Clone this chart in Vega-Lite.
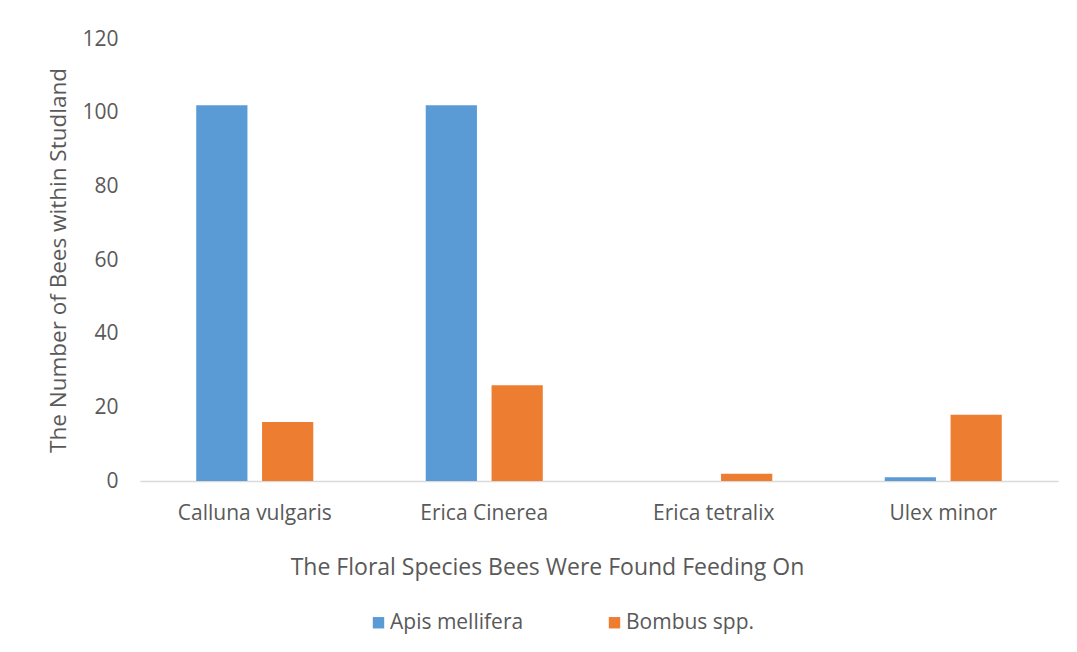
{
  "$schema": "https://vega.github.io/schema/vega-lite/v6.json",
  "autosize": {"type": "none"},
  "width": 918,
  "height": 442,
  "padding": {"left": 140, "top": 39, "right": 19, "bottom": 171},
  "background": "white",
  "data": {
    "values": [
      {"species": "Calluna vulgaris", "bee": "Apis mellifera", "count": 102},
      {"species": "Calluna vulgaris", "bee": "Bombus spp.", "count": 16},
      {"species": "Erica Cinerea", "bee": "Apis mellifera", "count": 102},
      {"species": "Erica Cinerea", "bee": "Bombus spp.", "count": 26},
      {"species": "Erica tetralix", "bee": "Apis mellifera", "count": 0},
      {"species": "Erica tetralix", "bee": "Bombus spp.", "count": 2},
      {"species": "Ulex minor", "bee": "Apis mellifera", "count": 1},
      {"species": "Ulex minor", "bee": "Bombus spp.", "count": 18}
    ]
  },
  "mark": {"type": "bar"},
  "encoding": {
    "x": {
      "field": "species",
      "type": "nominal",
      "sort": null,
      "scale": {"paddingInner": 0.49, "paddingOuter": 0.245},
      "axis": {
        "title": "The Floral Species Bees Were Found Feeding On",
        "labelAngle": 0,
        "labelFontSize": 21,
        "labelPadding": 21,
        "titleFontSize": 23,
        "titleFontWeight": "normal",
        "titlePadding": 33,
        "titleX": 407,
        "titleAlign": "center",
        "domainColor": "#D9D9D9",
        "domainWidth": 1.5,
        "ticks": false,
        "labelColor": "#595959",
        "titleColor": "#595959"
      }
    },
    "xOffset": {
      "field": "bee",
      "type": "nominal",
      "scale": {"paddingInner": 0.222, "paddingOuter": 0}
    },
    "y": {
      "field": "count",
      "type": "quantitative",
      "scale": {"domain": [0, 120], "nice": false},
      "axis": {
        "title": "The Number of Bees  within Studland",
        "values": [0, 20, 40, 60, 80, 100, 120],
        "grid": false,
        "domain": false,
        "ticks": false,
        "labelFontSize": 21,
        "labelPadding": 22,
        "titleFontSize": 22.5,
        "titleFontWeight": "normal",
        "titlePadding": 11,
        "labelColor": "#595959",
        "titleColor": "#595959"
      }
    },
    "color": {
      "field": "bee",
      "type": "nominal",
      "scale": {"domain": ["Apis mellifera", "Bombus spp."], "range": ["#5B9BD5", "#ED7D31"]},
      "legend": {
        "title": null,
        "orient": "none",
        "direction": "horizontal",
        "legendX": 228,
        "legendY": 573,
        "symbolType": "square",
        "symbolSize": 130,
        "symbolStrokeWidth": 0,
        "labelFontSize": 21,
        "labelColor": "#595959",
        "labelOffset": 1,
        "columnPadding": 80
      }
    }
  },
  "config": {
    "font": "Open Sans",
    "view": {"stroke": null}
  }
}
